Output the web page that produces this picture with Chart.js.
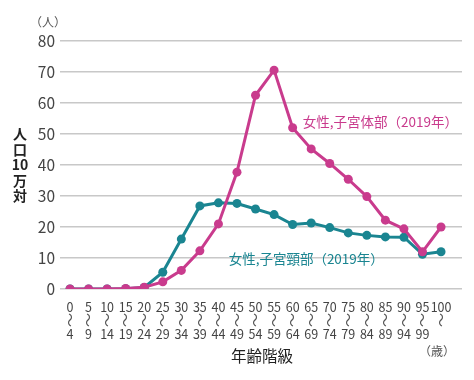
<!DOCTYPE html>
<html lang="ja">
<head>
<meta charset="utf-8">
<script src="https://cdn.jsdelivr.net/npm/chart.js@4.4.1/dist/chart.umd.min.js"></script>
<style>
  html, body { margin: 0; padding: 0; background: #fff; }
  canvas { display: block; }
</style>
</head>
<body>
<canvas id="chart" width="474" height="380"></canvas>
<script>
// age groups (start / end of each bracket)
const ageFrom = ["0", "5", "10", "15", "20", "25", "30", "35", "40", "45", "50",
  "55", "60", "65", "70", "75", "80", "85", "90", "95", "100"];
const ageTo = ["4", "9", "14", "19", "24", "29", "34", "39", "44", "49", "54",
  "59", "64", "69", "74", "79", "84", "89", "94", "99", ""];

// 女性,子宮体部 (2019年) - per 100k
const corpus = [0, 0, 0, 0.2, 0.6, 2.3, 6.0, 12.3, 21.0, 37.7, 62.5,
  70.6, 52.0, 45.2, 40.5, 35.4, 29.8, 22.2, 19.4, 12.0, 20.0];
// 女性,子宮頸部 (2019年)
const cervix = [0, 0, 0, 0.1, 0.5, 5.4, 16.1, 26.8, 27.8, 27.6, 25.8,
  24.0, 20.8, 21.3, 19.8, 18.1, 17.3, 16.8, 16.7, 11.2, 12.0];

const yTicks = [0, 10, 20, 30, 40, 50, 60, 70, 80];

const PINK = "#c93b8d";
const TEAL = "#1a8591";
const FONT = "'Noto Sans CJK JP', 'Noto Sans', sans-serif";

const labelsPlugin = {
  id: "labels",
  afterDraw(chart) {
    const { ctx, scales: { x, y } } = chart;
    ctx.save();
    ctx.textBaseline = "middle";
    ctx.textAlign = "center";

    // "〜" between the two bracket numbers, turned upright
    ctx.fillStyle = "#555";
    ctx.font = "14px " + FONT;
    x.ticks.forEach((t) => {
      ctx.save();
      ctx.translate(x.getPixelForValue(t.value), 320);
      ctx.rotate(Math.PI / 2);
      ctx.fillText("〜", 0, 0);
      ctx.restore();
    });

    // series labels
    ctx.font = "13.5px " + FONT;
    ctx.textAlign = "left";
    ctx.fillStyle = PINK;
    ctx.fillText("女性,子宮体部（2019年）", x.getPixelForValue(12.55), y.getPixelForValue(54));
    ctx.fillStyle = TEAL;
    ctx.fillText("女性,子宮頸部（2019年）", x.getPixelForValue(8.55), y.getPixelForValue(9.7));

    // unit labels
    ctx.textAlign = "center";
    ctx.fillStyle = "#555";
    ctx.font = "12px " + FONT;
    ctx.fillText("（人）", 48, 22);
    ctx.fillText("（歳）", 437, 351);

    // x title
    ctx.fillStyle = "#222";
    ctx.font = "15.5px " + FONT;
    ctx.fillText("年齢階級", 262, 356);

    // y title, stacked vertically
    ctx.font = "bold 14px " + FONT;
    ["人", "口", "10", "万", "対"].forEach((c, i) => {
      ctx.fillText(c, 20, 134 + i * 15.5);
    });
    ctx.restore();
  }
};

new Chart(document.getElementById("chart").getContext("2d"), {
  type: "line",
  data: {
    datasets: [
      {
        label: "女性,子宮体部（2019年）",
        data: corpus.map((v, i) => ({ x: i, y: v })),
        borderColor: PINK,
        backgroundColor: PINK,
        borderWidth: 3,
        pointRadius: 4.5,
        pointBorderWidth: 0,
        tension: 0,
      },
      {
        label: "女性,子宮頸部（2019年）",
        data: cervix.map((v, i) => ({ x: i, y: v })),
        borderColor: TEAL,
        backgroundColor: TEAL,
        borderWidth: 3,
        pointRadius: 4.5,
        pointBorderWidth: 0,
        tension: 0,
      },
    ],
  },
  options: {
    responsive: false,
    animation: false,
    layout: { padding: { top: 41, right: 12, left: 0, bottom: 0 } },
    plugins: {
      legend: { display: false },
      tooltip: { enabled: false },
    },
    scales: {
      x: {
        type: "linear",
        min: -0.54,
        max: 21.13,
        afterBuildTicks: (s) => {
          s.ticks = ageFrom.map((_, i) => ({ value: i }));
        },
        afterFit: (s) => { s.height = 91; },
        grid: { display: false, drawTicks: false },
        border: { display: false },
        ticks: {
          autoSkip: false,
          maxRotation: 0,
          padding: 11,
          color: "#444",
          font: { family: FONT, size: 12.5, lineHeight: 1.08 },
          callback: (v) => {
            const i = Math.round(v);
            return [ageFrom[i], "", ageTo[i]];
          },
        },
      },
      y: {
        min: 0,
        max: 80,
        afterBuildTicks: (s) => {
          s.ticks = yTicks.map((v) => ({ value: v }));
        },
        afterFit: (s) => { s.width = 60; },
        grid: { color: "#c8c8c8", lineWidth: 1.5, drawTicks: false },
        border: { display: false },
        ticks: {
          padding: 5,
          color: "#444",
          font: { family: FONT, size: 15.5 },
        },
      },
    },
  },
  plugins: [labelsPlugin],
});
</script>
</body>
</html>
